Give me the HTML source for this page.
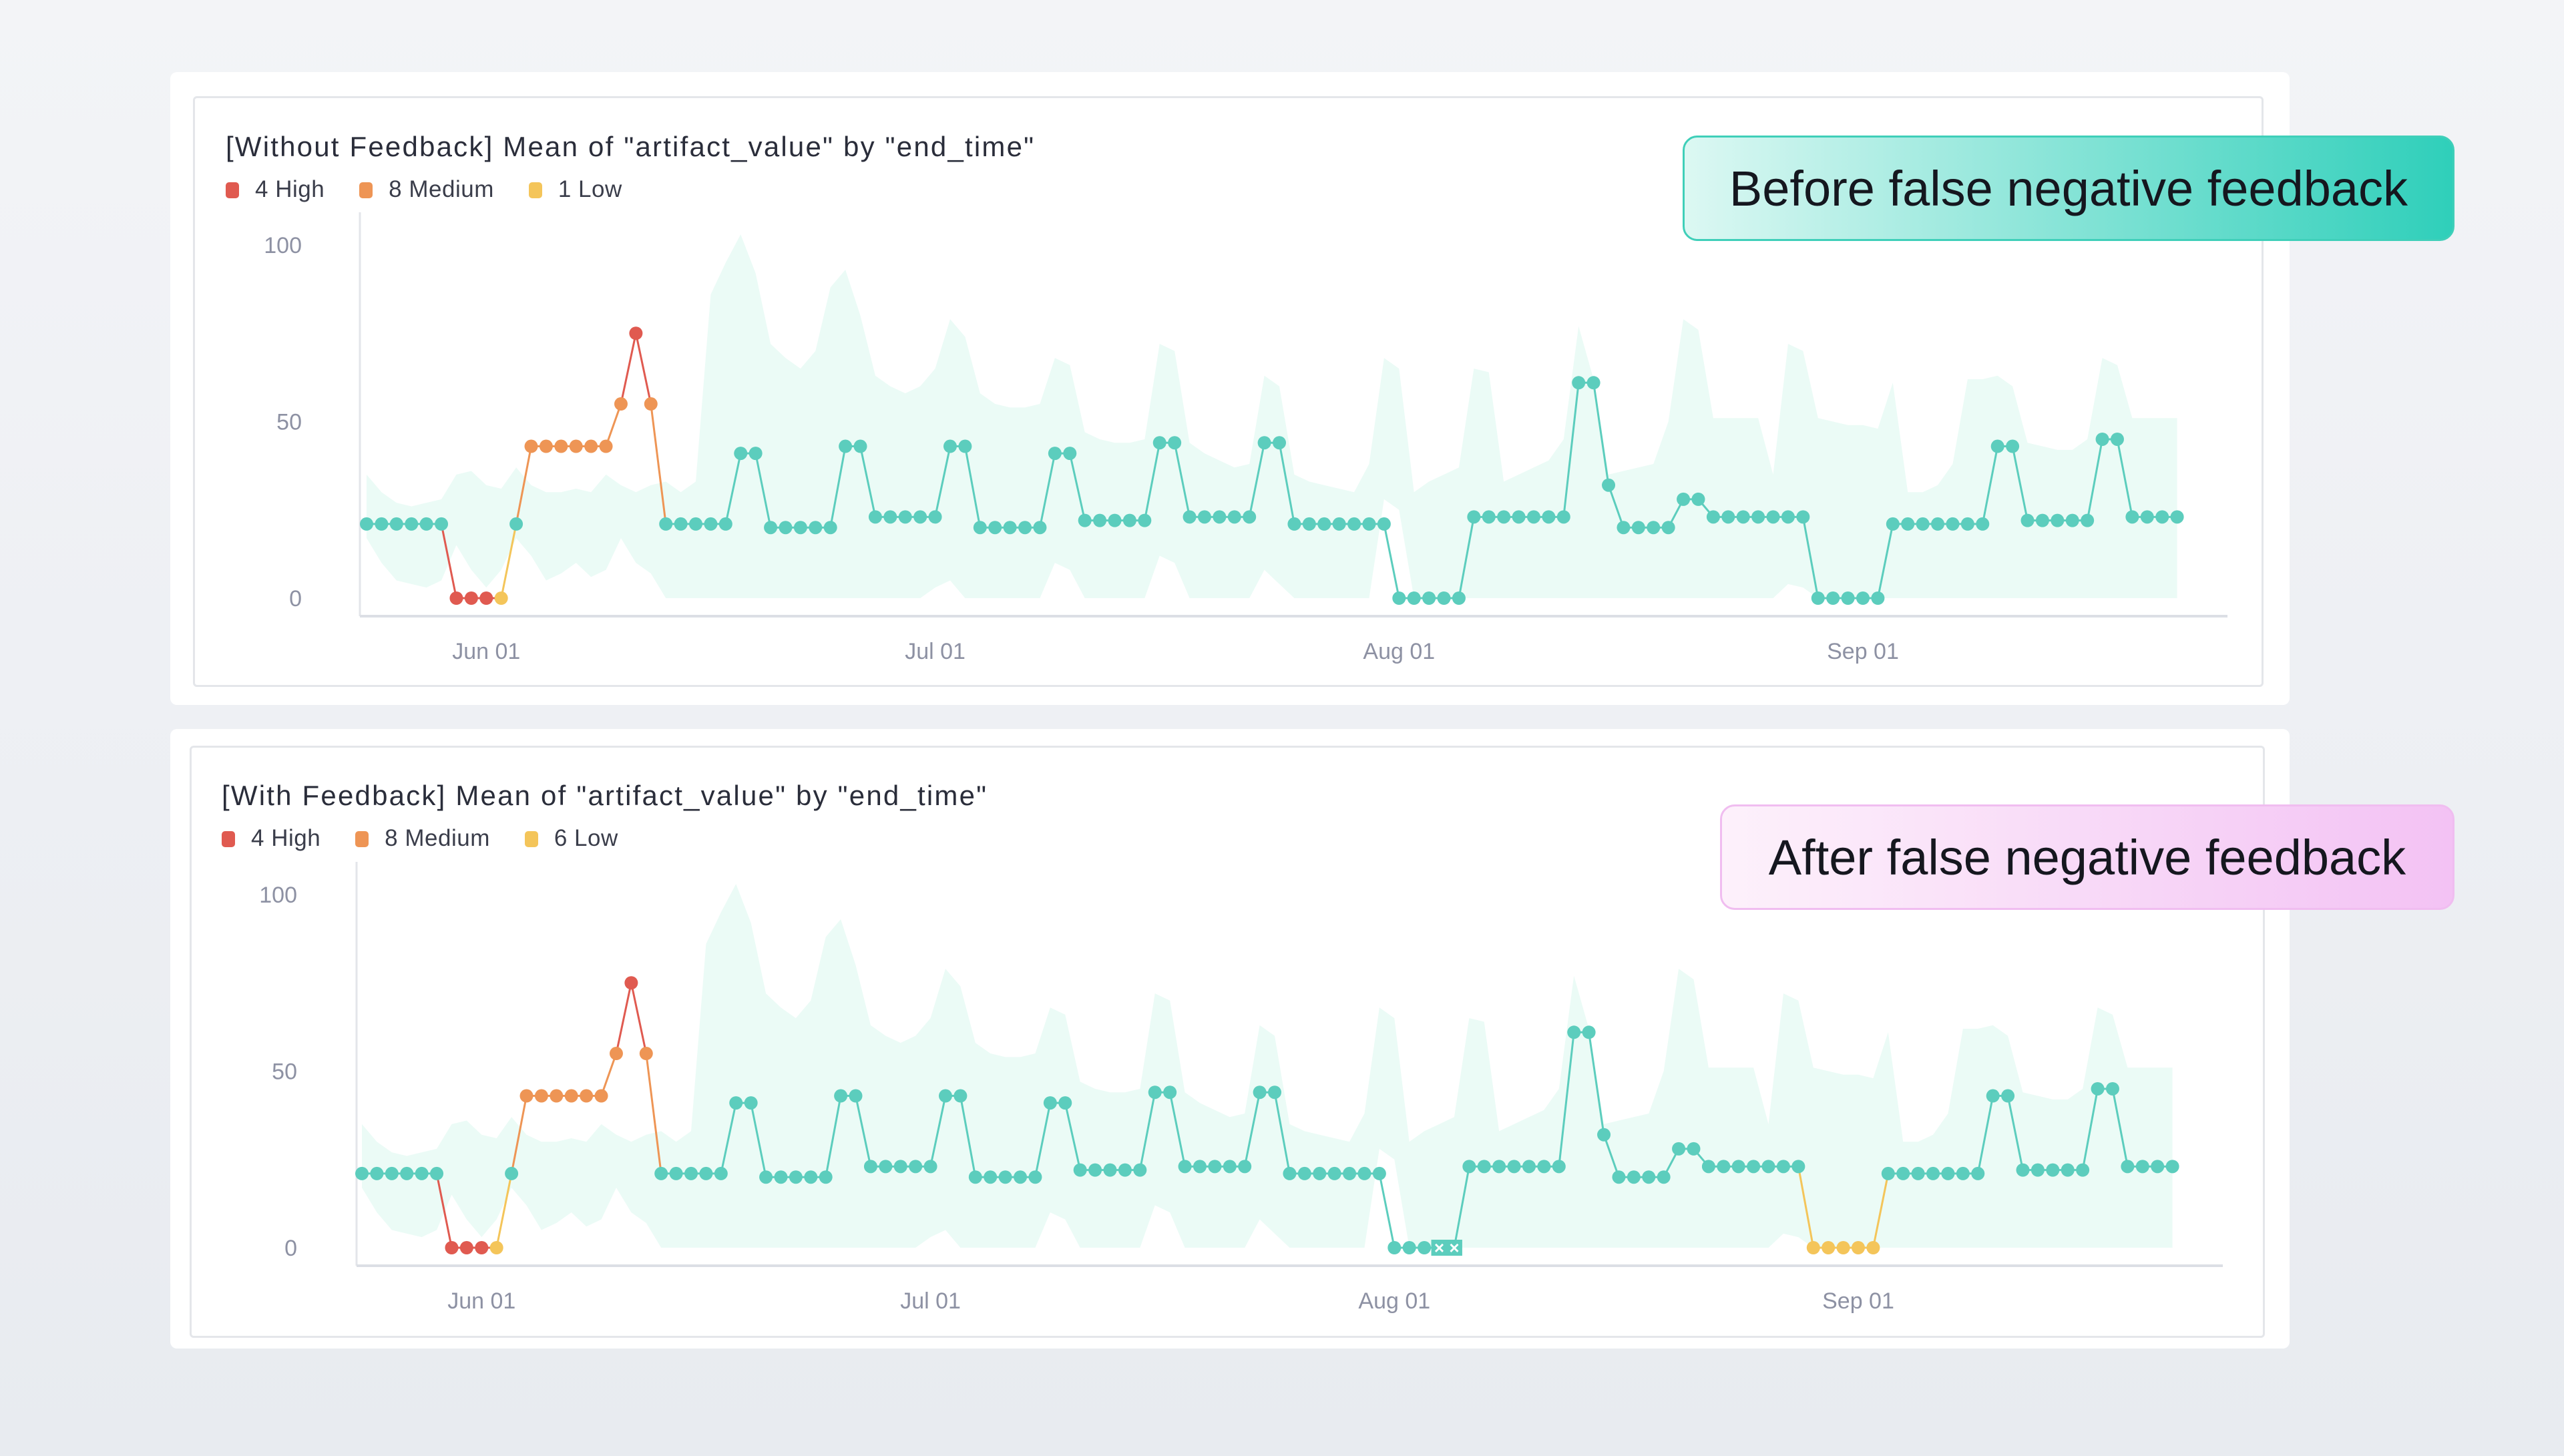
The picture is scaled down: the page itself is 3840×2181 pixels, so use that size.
<!DOCTYPE html>
<html><head><meta charset="utf-8">
<style>
html,body{margin:0;padding:0}
body{width:3840px;height:2181px;overflow:hidden;background:linear-gradient(180deg,#f3f4f7,#e8ebf0);font-family:"Liberation Sans",sans-serif;position:relative}
.card{position:absolute;background:#fff;border-radius:10px}
.panel{position:absolute;border:3px solid #e4e6ea;border-radius:6px;background:#fff}
.title{position:absolute;font-size:42px;letter-spacing:2.2px;color:#2a2d3a;white-space:nowrap}
.legend{position:absolute;font-size:35px;letter-spacing:0.5px;color:#3a3d4a;white-space:nowrap;display:flex;gap:52px}
.legend span i{display:inline-block;width:20px;height:24px;border-radius:5px;margin-right:24px;vertical-align:-2px}
.callout{position:absolute;border-radius:22px;font-size:74px;color:#15171f;display:flex;align-items:center;justify-content:center;white-space:nowrap}
svg{position:absolute;left:0;top:0}
</style></head><body>
<div class="card" style="left:255px;top:108px;width:3174px;height:948px"></div>
<div class="panel" style="left:289px;top:144px;width:3095px;height:879px"></div>
<div class="card" style="left:255px;top:1092px;width:3174px;height:928px"></div>
<div class="panel" style="left:284px;top:1117px;width:3102px;height:881px"></div>

<div class="title" style="left:338px;top:196px">[Without Feedback] Mean of "artifact_value" by "end_time"</div>
<div class="legend" style="left:338px;top:264px">
<span><i style="background:#e05a50"></i>4 High</span>
<span><i style="background:#ee9555"></i>8 Medium</span>
<span><i style="background:#f4c55a"></i>1 Low</span>
</div>
<div class="title" style="left:332px;top:1168px">[With Feedback] Mean of "artifact_value" by "end_time"</div>
<div class="legend" style="left:332px;top:1236px">
<span><i style="background:#e05a50"></i>4 High</span>
<span><i style="background:#ee9555"></i>8 Medium</span>
<span><i style="background:#f4c55a"></i>6 Low</span>
</div>

<svg id="chart" width="3840" height="2181"></svg>

<div class="callout" style="left:2520px;top:203px;width:1150px;height:152px;border:3px solid #3fcfb9;background:linear-gradient(90deg,#dcf8f3,#2fcfba)">Before false negative feedback</div>
<div class="callout" style="left:2576px;top:1205px;width:1094px;height:152px;border:3px solid #f0bdf0;background:linear-gradient(90deg,#fdf1fb,#f3c2f4)">After false negative feedback</div>

<script>
const values = [21,21,21,21,21,21,0,0,0,0,21,43,43,43,43,43,43,55,75,55,21,21,21,21,21,41,41,20,20,20,20,20,43,43,23,23,23,23,23,43,43,20,20,20,20,20,41,41,22,22,22,22,22,44,44,23,23,23,23,23,44,44,21,21,21,21,21,21,21,0,0,0,0,0,23,23,23,23,23,23,23,61,61,32,20,20,20,20,28,28,23,23,23,23,23,23,23,0,0,0,0,0,21,21,21,21,21,21,21,43,43,22,22,22,22,22,45,45,23,23,23,23];
// severity: 0 normal, 1 low, 2 medium, 3 high
const sevTop = values.map(()=>0);
[6,7,8,18].forEach(i=>sevTop[i]=3);
[11,12,13,14,15,16,17,19].forEach(i=>sevTop[i]=2);
[9].forEach(i=>sevTop[i]=1);
const sevBottom = sevTop.slice();
[97,98,99,100,101].forEach(i=>sevBottom[i]=1);
const markedBottom = [72,73];
const upper = [35,30,27,26,27,28,35,36,32,31,37,32,30,30,31,30,35,32,30,32,33,30,33,86,95,103,92,72,68,65,70,88,93,80,63,60,58,60,65,79,74,58,55,54,54,55,68,66,47,45,44,44,45,72,70,44,41,39,37,38,63,60,35,33,32,31,30,38,68,65,30,33,35,37,65,64,33,35,37,39,45,77,62,35,36,37,38,50,79,76,51,51,51,51,35,72,70,51,50,49,49,48,61,30,30,32,38,62,62,63,60,44,43,42,42,45,68,66,51,51,51,51];
const lower = [17,10,5,4,3,5,15,8,3,8,17,12,5,7,10,6,8,17,10,7,0,0,0,0,0,0,0,0,0,0,0,0,0,0,0,0,0,0,3,5,0,0,0,0,0,0,10,8,0,0,0,0,0,12,10,0,0,0,0,0,8,4,0,0,0,0,0,0,28,25,0,0,0,0,0,0,0,0,0,0,0,0,0,0,0,0,0,0,0,0,0,0,0,0,0,4,3,0,0,0,0,0,0,0,0,0,0,0,0,0,0,0,0,0,0,0,0,0,0,0,0,0];
const yTicks = [0,50,100];
const xTickLabels = ["Jun 01","Jul 01","Aug 01","Sep 01"];
const xTickIndex = [8,38,69,100];

const NS="http://www.w3.org/2000/svg";
const svg=document.getElementById('chart');
const COL=['#5ccdbd','#f4c55a','#ee9555','#e05a50'];
function mk(tag,attrs,parent){const e=document.createElementNS(NS,tag);for(const k in attrs)e.setAttribute(k,attrs[k]);(parent||svg).appendChild(e);return e;}

function drawChart(g, ox, oy, axisLeft, sev, marked){
  const xs=i=>ox+549+22.41*i;
  const ys=v=>oy+896-5.29*v;
  const axisY=oy+923;
  let d='M'+xs(0)+','+ys(upper[0]);
  for(let i=1;i<upper.length;i++) d+=' L'+xs(i)+','+ys(upper[i]);
  for(let i=lower.length-1;i>=0;i--) d+=' L'+xs(i)+','+ys(lower[i]);
  const band=mk('path',{d:d+'Z',fill:'#ebfbf6'},g);
  
  
  const ya=mk('line',{x1:axisLeft,x2:axisLeft,y1:oy+318,y2:axisY,stroke:'#e3e5ea','stroke-width':3},g);
  
  
  const xa=mk('line',{x1:axisLeft,x2:ox+3336,y1:axisY,y2:axisY,stroke:'#dcdfe5','stroke-width':4},g);
  
  
  yTicks.forEach(t=>{
    const tx=mk('text',{x:ox+452,y:ys(t)+12,'text-anchor':'end','font-size':34,fill:'#8d91a3','font-family':'Liberation Sans, sans-serif'},g);
    tx.textContent=t;
    
    
  });
  xTickLabels.forEach((l,k)=>{
    const tx=mk('text',{x:xs(xTickIndex[k]),y:oy+987,'text-anchor':'middle','font-size':34,fill:'#8d91a3','font-family':'Liberation Sans, sans-serif'},g);
    tx.textContent=l;
    
    
  });
  for(let i=0;i<values.length-1;i++){
    const s=Math.max(sev[i],sev[i+1]);
    const ln=mk('line',{x1:xs(i),y1:ys(values[i]),x2:xs(i+1),y2:ys(values[i+1]),stroke:COL[s],'stroke-width':3},g);
    
    
  }
  for(let i=0;i<values.length;i++){
    if(marked.includes(i)) continue;
    const c=mk('circle',{cx:xs(i),cy:ys(values[i]),r:10,fill:COL[sev[i]]},g);
    
    
  }
  if(marked.length){
    const a=marked[0], b=marked[marked.length-1];
    const r=mk('rect',{x:xs(a)-12,y:ys(values[a])-12,width:xs(b)-xs(a)+24,height:24,fill:'#5ccdbd'},g);
    
    
    marked.forEach(i=>{
      const t=mk('text',{x:xs(i),y:ys(values[i])+9,'text-anchor':'middle','font-size':26,fill:'#fff','font-weight':'bold','font-family':'Liberation Sans, sans-serif'},g);
      t.textContent='×';
      
      
    });
  }
}
const g1=mk('g',{});


drawChart(g1,0,0,539,sevTop,[]);
const g2=mk('g',{});


drawChart(g2,-7,973,534,sevBottom,markedBottom);
</script>
</body></html>
